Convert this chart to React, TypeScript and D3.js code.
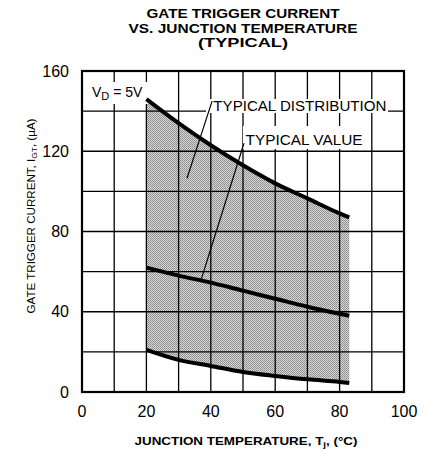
import React from 'react';
import * as d3 from 'd3';

// readings, x in deg C, y in uA
const temps = [20, 30, 40, 50, 60, 70, 80, 83];
const upperVals = [146, 134, 123, 113, 104, 96.5, 89, 87];
const typicalVals = [62, 58, 54.5, 50.5, 46.5, 42.5, 39, 38];
const lowerVals = [21, 16, 13, 10, 8, 6.3, 5, 4.5];

const xTicks = [0, 20, 40, 60, 80, 100];
const yTicks = [0, 40, 80, 120, 160];
const xGrid = d3.range(0, 101, 10);
const yGrid = d3.range(0, 161, 20);

const titleLines = ['GATE TRIGGER CURRENT', 'VS. JUNCTION TEMPERATURE', '(TYPICAL)'];
const titleWidths = [193, 229, 90];

const W = 433;
const H = 452;
const margin = { top: 71, right: 29, bottom: 60, left: 82 };
const font = '"Liberation Sans", Arial, Helvetica, sans-serif';

export default function App() {
  const x = d3.scaleLinear().domain([0, 100]).range([margin.left, W - margin.right]);
  const y = d3.scaleLinear().domain([0, 160]).range([H - margin.bottom, margin.top]);

  const upper = temps.map((t, i) => [t, upperVals[i]] as [number, number]);
  const typical = temps.map((t, i) => [t, typicalVals[i]] as [number, number]);
  const lower = temps.map((t, i) => [t, lowerVals[i]] as [number, number]);

  const line = d3.line<[number, number]>()
    .x((d) => x(d[0]))
    .y((d) => y(d[1]))
    .curve(d3.curveMonotoneX);

  const band = d3.area<number>()
    .x((i) => x(temps[i]))
    .y0((i) => y(lowerVals[i]))
    .y1((i) => y(upperVals[i]))
    .curve(d3.curveMonotoneX);

  const left = x(0);
  const right = x(100);
  const top = y(160);
  const bottom = y(0);

  return (
    <svg width={W} height={H} style={{ position: 'absolute', left: 0, top: 0, background: '#fff' }}>
      <defs>
        <pattern id="stipple" width="2" height="2" patternUnits="userSpaceOnUse">
          <rect width="2" height="2" fill="#d6d6d6" />
          <rect width="1" height="1" fill="#8a8a8a" />
          <rect x="1" y="1" width="1" height="1" fill="#9a9a9a" />
        </pattern>
      </defs>

      {/* title */}
      <g fontFamily={font} fontWeight="bold" fontSize="13" textAnchor="middle">
        {titleLines.map((t, i) => (
          <text key={t} x={243} y={18 + i * 14.5} textLength={titleWidths[i]} lengthAdjust="spacingAndGlyphs">
            {t}
          </text>
        ))}
      </g>

      {/* shaded distribution */}
      <path d={band(d3.range(temps.length)) || ''} fill="url(#stipple)" />

      {/* grid */}
      <g stroke="#000" strokeWidth="1.3">
        {xGrid.map((v) => (
          <line key={`gx${v}`} x1={x(v)} x2={x(v)} y1={top} y2={bottom} />
        ))}
        {yGrid.map((v) => (
          <line key={`gy${v}`} x1={left} x2={right} y1={y(v)} y2={y(v)} />
        ))}
      </g>
      <rect x={left} y={top} width={right - left} height={bottom - top} fill="none" stroke="#000" strokeWidth="2.2" />

      {/* label backgrounds */}
      <rect x={88} y={82} width={60} height={22} fill="#fff" />
      <rect x={206} y={99} width={182} height={14} fill="#fff" />
      <rect x={243} y={126} width={124} height={23} fill="#fff" />

      {/* curves */}
      <g fill="none" stroke="#000" strokeWidth="4">
        <path d={line(upper) || ''} />
        <path d={line(typical) || ''} />
        <path d={line(lower) || ''} />
      </g>

      {/* leader lines */}
      <g stroke="#000" strokeWidth="1.2">
        <line x1={x(40.4)} y1={y(145)} x2={x(32.6)} y2={y(106.5)} />
        <line x1={x(50.3)} y1={y(124)} x2={x(37)} y2={y(56)} />
      </g>

      {/* annotations */}
      <g fontFamily={font} fontSize="14" fill="#000">
        <text x={x(40.8)} y={y(140.3)} textLength={173} lengthAdjust="spacingAndGlyphs">TYPICAL DISTRIBUTION</text>
        <text x={x(50.8)} y={y(123.2)} textLength={117} lengthAdjust="spacingAndGlyphs">TYPICAL VALUE</text>
        <text x={92} y={97}>
          V<tspan fontSize="11" dy="3">D</tspan>
          <tspan dy="-3"> = 5V</tspan>
        </text>
      </g>

      {/* tick labels */}
      <g fontFamily={font} fontSize="16" fill="#000">
        {yTicks.map((v) => (
          <text key={`yt${v}`} x={left - 13} y={y(v) + 5.5} textAnchor="end">{v}</text>
        ))}
        {xTicks.map((v) => (
          <text key={`xt${v}`} x={x(v)} y={417} textAnchor="middle">{v}</text>
        ))}
      </g>

      {/* axis titles */}
      <text x={246} y={445} fontFamily={font} fontSize="11" fontWeight="bold" textAnchor="middle"
        textLength={223} lengthAdjust="spacingAndGlyphs">
        JUNCTION TEMPERATURE, T<tspan fontSize="8" dy="2">j</tspan><tspan dy="-2">, (°C)</tspan>
      </text>
      <text transform="translate(35,216) rotate(-90)" fontFamily={font} fontSize="11" textAnchor="middle"
        textLength={195} lengthAdjust="spacingAndGlyphs">
        GATE TRIGGER CURRENT, I<tspan fontSize="8" dy="2">GT</tspan><tspan dy="-2">, (µA)</tspan>
      </text>
    </svg>
  );
}
